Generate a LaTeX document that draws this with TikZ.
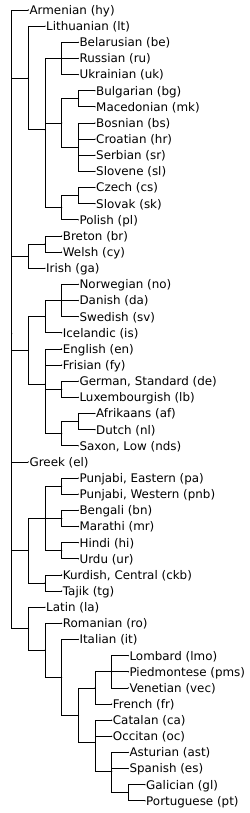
\documentclass[tikz,border=0pt]{standalone}
\usepackage{fontspec}
\setmainfont{DejaVu Sans}
\begin{document}
\begin{tikzpicture}[x=1pt,y=-1pt,
  lf/.style={anchor=west, inner xsep=1pt, inner ysep=0pt, text height=8.8pt, text depth=0pt,
    font=\fontsize{11.9}{13}\selectfont},
  br/.style={draw=black, line width=0.75pt},
  jn/.style={fill=black}]
\useasboundingbox (0,0) rectangle (249,813);
% internal nodes
\coordinate (root) at (11.7,333.70);
\coordinate (bsl) at (28.37,77.92);
\coordinate (sla) at (45.03,129.705);
\coordinate (esl) at (61.7,58.42);
\coordinate (ssl) at (61.7,122.98);
\coordinate (bgmk) at (78.37,98.77);
\coordinate (bcs) at (78.37,147.19);
\coordinate (wsl) at (61.7,207.715);
\coordinate (csk) at (78.37,195.61);
\coordinate (cel) at (28.37,256.135);
\coordinate (bry) at (45.03,244.03);
\coordinate (ger) at (28.37,350.453);
\coordinate (ngr) at (45.03,316.66);
\coordinate (scn) at (61.7,300.52);
\coordinate (wgr) at (45.03,384.246);
\coordinate (delb) at (61.7,389.29);
\coordinate (lfr) at (61.7,433.675);
\coordinate (afnl) at (78.37,421.57);
\coordinate (iir) at (28.37,550.69);
\coordinate (iar) at (45.03,518.41);
\coordinate (pan) at (61.7,486.13);
\coordinate (bnmr) at (61.7,518.41);
\coordinate (hiur) at (61.7,550.69);
\coordinate (irn) at (45.03,582.97);
\coordinate (r1) at (28.37,628.76);
\coordinate (r2) at (45.03,650.33);
\coordinate (r3) at (61.7,677.345);
\coordinate (r4) at (78.37,715.23);
\coordinate (r5) at (95.03,687.88);
\coordinate (lpv) at (111.7,671.74);
\coordinate (r6) at (95.03,742.577);
\coordinate (r7) at (111.7,771.27);
\coordinate (glpt) at (128.37,792.79);
% leaves
\node[lf] (hy) at (28.37,10) {Armenian (hy)};
\node[lf] (lt) at (45.03,26.14) {Lithuanian (lt)};
\node[lf] (be) at (78.37,42.28) {Belarusian (be)};
\node[lf] (ru) at (78.37,58.42) {Russian (ru)};
\node[lf] (uk) at (78.37,74.56) {Ukrainian (uk)};
\node[lf] (bg) at (95.03,90.70) {Bulgarian (bg)};
\node[lf] (mk) at (95.03,106.84) {Macedonian (mk)};
\node[lf] (bs) at (95.03,122.98) {Bosnian (bs)};
\node[lf] (hr) at (95.03,139.12) {Croatian (hr)};
\node[lf] (sr) at (95.03,155.26) {Serbian (sr)};
\node[lf] (sl) at (95.03,171.40) {Slovene (sl)};
\node[lf] (cs) at (95.03,187.54) {Czech (cs)};
\node[lf] (sk) at (95.03,203.68) {Slovak (sk)};
\node[lf] (pl) at (78.37,219.82) {Polish (pl)};
\node[lf] (br) at (61.7,235.96) {Breton (br)};
\node[lf] (cy) at (61.7,252.10) {Welsh (cy)};
\node[lf] (ga) at (45.03,268.24) {Irish (ga)};
\node[lf] (no) at (78.37,284.38) {Norwegian (no)};
\node[lf] (da) at (78.37,300.52) {Danish (da)};
\node[lf] (sv) at (78.37,316.66) {Swedish (sv)};
\node[lf] (is) at (61.7,332.80) {Icelandic (is)};
\node[lf] (en) at (61.7,348.94) {English (en)};
\node[lf] (fy) at (61.7,365.08) {Frisian (fy)};
\node[lf] (de) at (78.37,381.22) {German, Standard (de)};
\node[lf] (lb) at (78.37,397.36) {Luxembourgish (lb)};
\node[lf] (af) at (95.03,413.50) {Afrikaans (af)};
\node[lf] (nl) at (95.03,429.64) {Dutch (nl)};
\node[lf] (nds) at (78.37,445.78) {Saxon, Low (nds)};
\node[lf] (el) at (28.37,461.92) {Greek (el)};
\node[lf] (pa) at (78.37,478.06) {Punjabi, Eastern (pa)};
\node[lf] (pnb) at (78.37,494.20) {Punjabi, Western (pnb)};
\node[lf] (bn) at (78.37,510.34) {Bengali (bn)};
\node[lf] (mr) at (78.37,526.48) {Marathi (mr)};
\node[lf] (hi) at (78.37,542.62) {Hindi (hi)};
\node[lf] (ur) at (78.37,558.76) {Urdu (ur)};
\node[lf] (ckb) at (61.7,574.90) {Kurdish, Central (ckb)};
\node[lf] (tg) at (61.7,591.04) {Tajik (tg)};
\node[lf] (la) at (45.03,607.18) {Latin (la)};
\node[lf] (ro) at (61.7,623.32) {Romanian (ro)};
\node[lf] (it) at (78.37,639.46) {Italian (it)};
\node[lf] (lmo) at (128.37,655.60) {Lombard (lmo)};
\node[lf] (pms) at (128.37,671.74) {Piedmontese (pms)};
\node[lf] (vec) at (128.37,687.88) {Venetian (vec)};
\node[lf] (fr) at (111.7,704.02) {French (fr)};
\node[lf] (ca) at (111.7,720.16) {Catalan (ca)};
\node[lf] (oc) at (111.7,736.30) {Occitan (oc)};
\node[lf] (ast) at (128.37,752.44) {Asturian (ast)};
\node[lf] (es) at (128.37,768.58) {Spanish (es)};
\node[lf] (gl) at (145.03,784.72) {Galician (gl)};
\node[lf] (pt) at (145.03,800.86) {Portuguese (pt)};
% connectors
\foreach \p/\c in {root/hy,root/bsl,root/cel,root/ger,root/el,root/iir,root/r1,
  bsl/lt,bsl/sla,sla/esl,sla/ssl,sla/wsl,esl/be,esl/ru,esl/uk,ssl/bgmk,ssl/bcs,
  bgmk/bg,bgmk/mk,bcs/bs,bcs/hr,bcs/sr,bcs/sl,wsl/csk,wsl/pl,csk/cs,csk/sk,
  cel/bry,cel/ga,bry/br,bry/cy,ger/ngr,ger/wgr,ngr/scn,ngr/is,scn/no,scn/da,scn/sv,
  wgr/en,wgr/fy,wgr/delb,wgr/lfr,delb/de,delb/lb,lfr/afnl,lfr/nds,afnl/af,afnl/nl,
  iir/iar,iir/irn,iar/pan,iar/bnmr,iar/hiur,pan/pa,pan/pnb,bnmr/bn,bnmr/mr,hiur/hi,hiur/ur,
  irn/ckb,irn/tg,r1/la,r1/r2,r2/ro,r2/r3,r3/it,r3/r4,r4/r5,r4/r6,r5/lpv,r5/fr,
  lpv/lmo,lpv/pms,lpv/vec,r6/ca,r6/oc,r6/r7,r7/ast,r7/es,r7/glpt,glpt/gl,glpt/pt}
  \draw[br] (\p) |- (\c);
% junction dots
\foreach \n in {root,bsl,sla,esl,ssl,bgmk,bcs,wsl,csk,cel,bry,ger,ngr,scn,wgr,delb,lfr,afnl,
  iir,iar,pan,bnmr,hiur,irn,r1,r2,r3,r4,r5,lpv,r6,r7,glpt}
  \fill[jn] (\n) circle (0.65);
\foreach \n in {hy,lt,be,ru,uk,bg,mk,bs,hr,sr,sl,cs,sk,pl,br,cy,ga,no,da,sv,is,en,fy,de,lb,
  af,nl,nds,el,pa,pnb,bn,mr,hi,ur,ckb,tg,la,ro,it,lmo,pms,vec,fr,ca,oc,ast,es,gl,pt}
  \fill[jn] (\n.west) circle (0.65);
\end{tikzpicture}
\end{document}
